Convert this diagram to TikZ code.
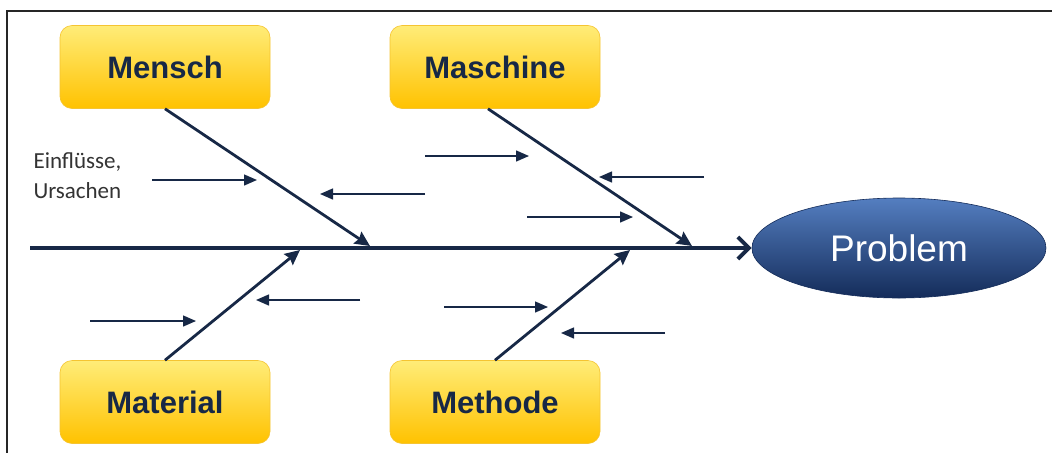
\documentclass[tikz,border=0pt]{standalone}
\usepackage{fontspec}
\usepackage{tikz}
\usetikzlibrary{arrows.meta,shapes.geometric}
\newfontfamily\arialfont{Liberation Sans}
\newfontfamily\calibrifont{Carlito}
\definecolor{navy}{RGB}{23,40,70}
\definecolor{boxtop}{RGB}{255,236,120}
\definecolor{boxbottom}{RGB}{255,194,0}
\definecolor{boxedge}{RGB}{245,196,50}
\definecolor{probtop}{RGB}{84,126,192}
\definecolor{probbottom}{RGB}{20,44,90}

\begin{document}
\begin{tikzpicture}[x=1pt,y=-1pt,
    cause/.style={rounded corners=12pt, minimum width=210pt, minimum height=83pt,
      top color=boxtop, bottom color=boxbottom, draw=boxedge, line width=0.6pt,
      text=navy, font=\arialfont\fontsize{31}{36}\selectfont\bfseries},
    effect/.style={ellipse, minimum width=294pt, minimum height=100pt, inner sep=0pt,
      top color=probtop, bottom color=probbottom, draw=probbottom, line width=0.6pt,
      text=white, font=\arialfont\fontsize{37}{42}\selectfont},
    spine/.style={navy, line width=4pt, -{Straight Barb[length=11pt,width=22pt]}},
    bone/.style={navy, line width=2.8pt, -{Stealth[length=15pt,width=14pt,inset=2pt]}},
    influence/.style={navy, line width=1.4pt, -{Triangle[length=13pt,width=11pt]}}]
    \useasboundingbox (0,0) rectangle (1052,453);
    % frame (top and left only)
    \draw[black!85, line width=1.5pt] (1052,11) -- (7,11) -- (7,453);

    % causes and effect
    \node[cause]  (mensch)   at (165,67)  {Mensch};
    \node[cause]  (maschine) at (495,67)  {Maschine};
    \node[cause]  (material) at (165,402) {Material};
    \node[cause]  (methode)  at (495,402) {Methode};
    \node[effect] (problem)  at (899,248) {Problem};

    \node[align=left, anchor=north west, text=black!80,
      font=\calibrifont\fontsize{23}{30}\selectfont] (einfluss) at (30,149)
      {Einflüsse,\\Ursachen};

    % spine
    \coordinate (tail) at (30,248);
    \draw[spine] (tail) -- (problem.west);

    % bones
    \coordinate (mensch end)   at (370,246);
    \coordinate (maschine end) at (692,246);
    \coordinate (material end) at (300,250);
    \coordinate (methode end)  at (630,250);
    \draw[bone] (mensch.south) -- (mensch end);
    \draw[bone] ([xshift=-7pt]maschine.south) -- (maschine end);
    \draw[bone] (material.north) -- (material end);
    \draw[bone] (methode.north) -- (methode end);

    % small influence arrows
    \foreach \i/\xa/\xb/\y in {1/152/257/180, 2/425/320/194, 3/425/529/156,
        4/704/599/177, 5/527/633/217, 6/90/196/321, 7/360/256/300,
        8/444/548/307, 9/665/561/333} {
      \coordinate (s\i) at (\xa,\y);
      \coordinate (e\i) at (\xb,\y);
      \draw[influence] (s\i) -- (e\i);
    }
\end{tikzpicture}
\end{document}
